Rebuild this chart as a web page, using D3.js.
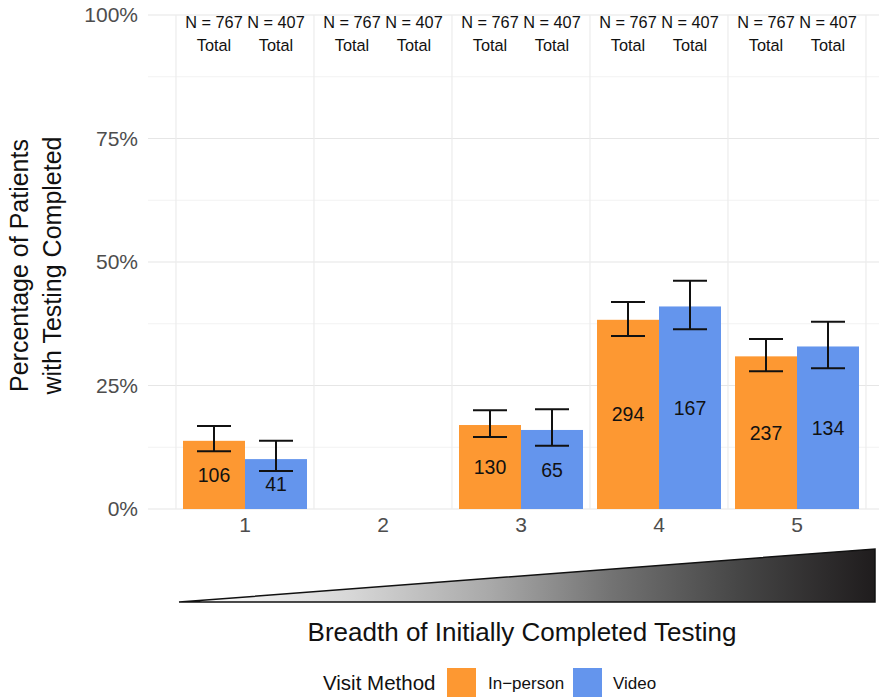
<!DOCTYPE html>
<html>
<head>
<meta charset="utf-8">
<script src="https://cdn.jsdelivr.net/npm/d3@7"></script>
<style>
  html, body { margin: 0; padding: 0; background: #fff; }
  svg { display: block; font-family: "Liberation Sans", Arial, Helvetica, sans-serif; }
</style>
</head>
<body>
<svg id="chart" width="879" height="698"></svg>
<script>
// ---- data ----
const categories = ["1", "2", "3", "4", "5"];
const methods = ["In\u2212person", "Video"];
const inPersonPct = [13.8, null, 17.0, 38.3, 30.9];
const videoPct = [10.1, null, 16.0, 41.0, 32.9];
const inPersonCount = [106, null, 130, 294, 237];
const videoCount = [41, null, 65, 167, 134];
const inPersonLow = [11.7, null, 14.6, 35.0, 27.9];
const inPersonHigh = [16.8, null, 20.0, 41.9, 34.4];
const videoLow = [7.7, null, 12.8, 36.4, 28.5];
const videoHigh = [13.8, null, 20.2, 46.2, 37.9];
const inPersonN = [767, 767, 767, 767, 767];
const videoN = [407, 407, 407, 407, 407];
const yTicks = [0, 25, 50, 75, 100];
const yMinorTicks = [12.5, 37.5, 62.5, 87.5];
const colors = ["#FD9832", "#6495ED"];

// ---- layout ----
const svg = d3.select("#chart");
const plotLeft = 148, plotRight = 879, plotTop = 15, plotBottom = 509;

const x = d3.scaleBand().domain(categories).range([176, 866]).paddingInner(0).paddingOuter(0);
const xSub = d3.scaleBand().domain(methods).range([0, x.bandwidth()]).paddingInner(0).paddingOuter(0.113);
const y = d3.scaleLinear().domain([0, 100]).range([plotBottom, plotTop]);

// grid
const grid = svg.append("g");
grid.selectAll(".minor").data(yMinorTicks).join("line")
  .attr("x1", plotLeft).attr("x2", plotRight)
  .attr("y1", d => y(d)).attr("y2", d => y(d))
  .attr("stroke", "#f2f2f2").attr("stroke-width", 1);
grid.selectAll(".major").data(yTicks).join("line")
  .attr("x1", plotLeft).attr("x2", plotRight)
  .attr("y1", d => y(d)).attr("y2", d => y(d))
  .attr("stroke", "#e6e6e6").attr("stroke-width", 1.2);
const edges = categories.map(c => x(c)).concat([x(categories[categories.length - 1]) + x.bandwidth()]);
grid.selectAll(".vx").data(edges).join("line")
  .attr("x1", d => d).attr("x2", d => d)
  .attr("y1", plotTop).attr("y2", plotBottom)
  .attr("stroke", "#ececec").attr("stroke-width", 1.2);

// y axis
const yAxis = d3.axisLeft(y).tickValues(yTicks).tickFormat(d => d + "%").tickSize(0).tickPadding(10);
const gy = svg.append("g").attr("transform", `translate(${plotLeft},0)`).call(yAxis);
gy.select(".domain").remove();
gy.selectAll("text").attr("font-size", 21).attr("fill", "#4d4d4d")
  .attr("font-family", "Liberation Sans, Arial, sans-serif");

// x axis
const xAxis = d3.axisBottom(x).tickSize(0).tickPadding(8);
const gx = svg.append("g").attr("transform", `translate(0,${plotBottom})`).call(xAxis);
gx.select(".domain").remove();
gx.selectAll("text").attr("font-size", 21).attr("fill", "#4d4d4d")
  .attr("font-family", "Liberation Sans, Arial, sans-serif");

// bars
const series = [
  { name: methods[0], pct: inPersonPct, count: inPersonCount, lo: inPersonLow, hi: inPersonHigh, n: inPersonN, color: colors[0] },
  { name: methods[1], pct: videoPct, count: videoCount, lo: videoLow, hi: videoHigh, n: videoN, color: colors[1] }
];
const rows = [];
series.forEach(s => {
  categories.forEach((c, i) => {
    rows.push({ cat: c, method: s.name, pct: s.pct[i], count: s.count[i], lo: s.lo[i], hi: s.hi[i], n: s.n[i], color: s.color });
  });
});
const barRows = rows.filter(r => r.pct != null);

svg.append("g").selectAll("rect").data(barRows).join("rect")
  .attr("x", d => x(d.cat) + xSub(d.method))
  .attr("width", xSub.bandwidth())
  .attr("y", d => y(d.pct))
  .attr("height", d => y(0) - y(d.pct))
  .attr("fill", d => d.color);

// count labels
svg.append("g").selectAll("text").data(barRows).join("text")
  .attr("x", d => x(d.cat) + xSub(d.method) + xSub.bandwidth() / 2)
  .attr("y", d => (y(d.pct) + y(0)) / 2)
  .attr("dy", "0.36em")
  .attr("text-anchor", "middle")
  .attr("font-size", 19.5).attr("fill", "#111")
  .text(d => d.count);

// error bars
const capHalf = 17;
const eb = svg.append("g").attr("stroke", "#111").attr("stroke-width", 2).attr("fill", "none");
barRows.forEach(d => {
  const cx = x(d.cat) + xSub(d.method) + xSub.bandwidth() / 2;
  eb.append("line").attr("x1", cx).attr("x2", cx).attr("y1", y(d.lo)).attr("y2", y(d.hi));
  eb.append("line").attr("x1", cx - capHalf).attr("x2", cx + capHalf).attr("y1", y(d.lo)).attr("y2", y(d.lo));
  eb.append("line").attr("x1", cx - capHalf).attr("x2", cx + capHalf).attr("y1", y(d.hi)).attr("y2", y(d.hi));
});

// N annotations
const ann = svg.append("g").attr("font-size", 16.3).attr("fill", "#111").attr("text-anchor", "middle");
rows.forEach(d => {
  const cx = x(d.cat) + xSub(d.method) + xSub.bandwidth() / 2;
  ann.append("text").attr("x", cx).attr("y", 28).text("N = " + d.n);
  ann.append("text").attr("x", cx).attr("y", 51).text("Total");
});

// y title
svg.append("text")
  .attr("transform", "translate(28,265.5) rotate(-90)")
  .attr("text-anchor", "middle").attr("font-size", 25).attr("fill", "#111")
  .text("Percentage of Patients");
svg.append("text")
  .attr("transform", "translate(61,265.5) rotate(-90)")
  .attr("text-anchor", "middle").attr("font-size", 25).attr("fill", "#111")
  .text("with Testing Completed");

// gradient triangle
const defs = svg.append("defs");
const grad = defs.append("linearGradient").attr("id", "tri").attr("x1", "0%").attr("x2", "100%").attr("y1", "0%").attr("y2", "0%");
[[0, "#ffffff"], [0.25, "#d6d6d6"], [0.45, "#a8a8a8"], [0.62, "#737373"], [0.8, "#474747"], [1, "#1f1c1d"]]
  .forEach(([o, c]) => grad.append("stop").attr("offset", o).attr("stop-color", c));
const triPts = [[179, 602], [875, 549], [875, 602]];
svg.append("path")
  .attr("d", d3.line()(triPts) + "Z")
  .attr("fill", "url(#tri)")
  .attr("stroke", "#111").attr("stroke-width", 1.5).attr("stroke-linejoin", "miter");

// x title
svg.append("text").attr("x", 522).attr("y", 641).attr("text-anchor", "middle")
  .attr("font-size", 26).attr("fill", "#111")
  .text("Breadth of Initially Completed Testing");

// legend
const lg = svg.append("g");
lg.append("text").attr("x", 323).attr("y", 690).attr("font-size", 20.5).attr("fill", "#111").text("Visit Method");
const legItems = [
  { label: methods[0], color: colors[0], x: 447, tx: 488 },
  { label: methods[1], color: colors[1], x: 573, tx: 613 }
];
legItems.forEach(it => {
  lg.append("rect").attr("x", it.x).attr("y", 668).attr("width", 29).attr("height", 29).attr("fill", it.color);
  lg.append("text").attr("x", it.tx).attr("y", 689).attr("font-size", 17).attr("fill", "#111").text(it.label);
});
</script>
</body>
</html>
